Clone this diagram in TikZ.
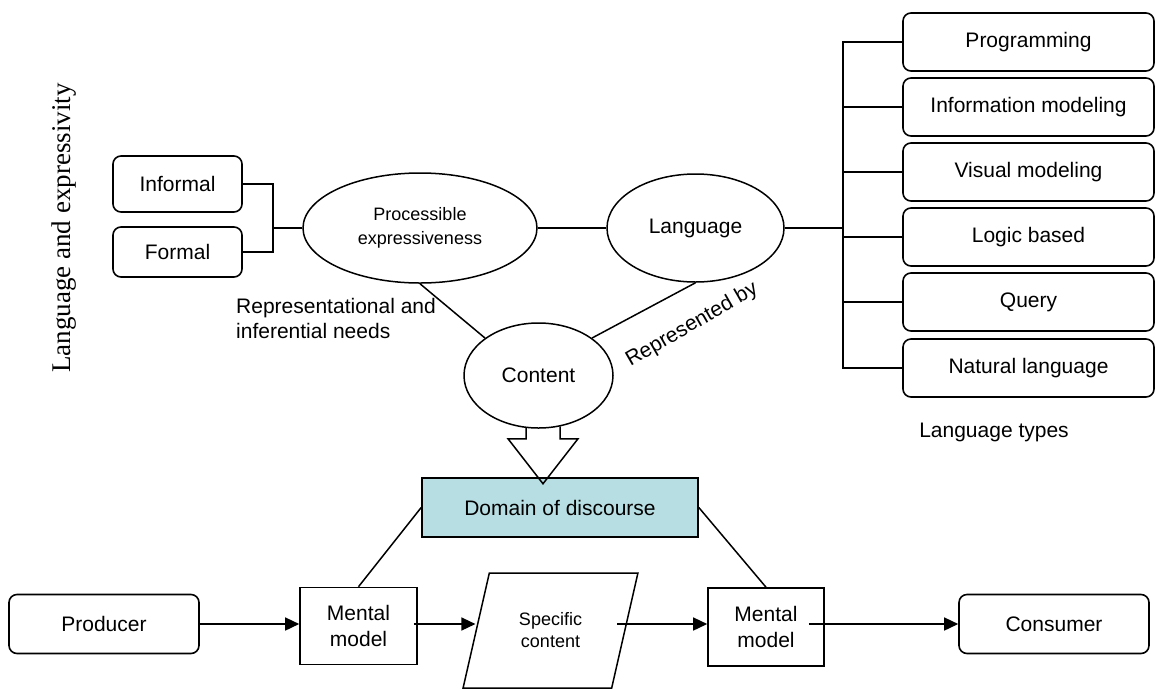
\documentclass[tikz,border=0pt]{standalone}
\usepackage{fontspec}
\setmainfont{Liberation Sans}
\newfontfamily\titleserif{Liberation Serif}
\usetikzlibrary{shapes.geometric,arrows.meta,calc}
\definecolor{domfill}{RGB}{183,222,226}
\begin{document}
\begin{tikzpicture}[x=1pt,y=-1pt,
  base/.style={font=\fontsize{21}{25}\selectfont, align=center, inner sep=0pt},
  small/.style={font=\fontsize{18}{24}\selectfont},
  rbox/.style={base, draw, line width=1.6pt, rounded corners=8pt},
  sbox/.style={base, draw, line width=1.6pt},
  ell/.style={base, draw, ellipse, line width=1.5pt},
  conn/.style={line width=1.5pt},
  arr/.style={line width=1.5pt, -{Triangle[length=14pt,width=13pt]}},
  lbl/.style={base},
]
\useasboundingbox (0,0) rectangle (1156,689);

% title
\node[font=\titleserif\fontsize{27}{30}\selectfont, rotate=90, inner sep=0pt] (title) at (64,228) {Language and expressivity};

% left boxes
\node[rbox, minimum width=129pt, minimum height=56pt] (inf) at (177.5,184) {Informal};
\node[rbox, minimum width=129pt, minimum height=50pt] (for) at (177.5,252) {Formal};

% ellipses
\node[ell, small, minimum width=234pt, minimum height=110pt] (pe) at (420,228) {Processible\\expressiveness};
\node[ell, minimum width=177pt, minimum height=108pt] (lang) at (695.5,228) {Language};
\node[ell, minimum width=149pt, minimum height=105pt] (cont) at (538.5,375.5) {Content};

% right boxes
\foreach \t/\y/\n in {Programming/42/p1, Information modeling/107/p2, Visual modeling/172/p3, Logic based/237/p4, Query/302/p5, Natural language/368/p6}{
  \node[rbox, minimum width=251pt, minimum height=58pt] (\n) at (1028.5,\y) {\t};
}
\node[lbl] (ltypes) at (994,432) {Language types};

% labels
\node[lbl, align=left, anchor=west] (repneed) at (236,318) {Representational and\\inferential needs};
\node[lbl, rotate=30] (repby) at (692,325) {Represented by};

% domain
\node[sbox, fill=domfill, minimum width=276pt, minimum height=59pt] (dom) at (560,507.5) {Domain of discourse};

% bottom row
\node[rbox, minimum width=190pt, minimum height=59pt] (prod) at (104,624) {Producer};
\node[sbox, minimum width=117pt, minimum height=77pt, font=\fontsize{21}{26}\selectfont] (mm1) at (358.5,626) {Mental\\model};
\node[draw, trapezium, trapezium left angle=69, trapezium right angle=111, trapezium stretches=true,
      minimum width=175pt, minimum height=115pt, line width=1.5pt, inner sep=0pt, align=center,
      font=\fontsize{18}{22}\selectfont] (spec) at (550.5,630.5) {Specific\\content};
\node[sbox, minimum width=116pt, minimum height=78pt, font=\fontsize{21}{26}\selectfont] (mm2) at (766,627) {Mental\\model};
\node[rbox, minimum width=190pt, minimum height=59pt] (cons) at (1054,624) {Consumer};

% left bracket
\coordinate (lb) at (273,228);
\draw[conn] (inf.east) -| (lb) |- (for.east);
\draw[conn] (lb) -- (pe.west);

% ellipse links
\draw[conn] (pe.east) -- (lang.west);
\draw[conn] (pe.south) -- (cont.145);
\draw[conn] (lang.south) -- (cont.35);

% right bracket
\coordinate (rb) at (843,228);
\draw[conn] (lang.east) -- (rb);
\draw[conn] (p1.west) -| (rb) |- (p6.west);
\foreach \n in {p2,p3,p4,p5}{\draw[conn] (\n.west) -- (\n.west -| rb);}

% block arrow (content -> domain)
\coordinate (tip) at ($(cont.south)+(4.5,55)$);
\draw[line width=1.5pt, line join=miter]
  ($(cont.south)+(-12.5,-1.5)$) -- ($(cont.south)+(-12.5,10)$) -- ($(cont.south)+(-30.5,10)$)
  -- (tip) -- ($(cont.south)+(39.5,10)$) -- ($(cont.south)+(21.5,10)$) -- ($(cont.south)+(21.5,-2.5)$);

% domain links
\draw[conn] (mm1.north) -- (dom.west);
\draw[conn] (dom.east) -- (mm2.north);

% bottom arrows
\coordinate (a1) at ($(mm1.east)+(-4,-2)$);
\coordinate (a2) at (617,624);
\coordinate (a3) at ($(mm2.east)+(-16,-3)$);
\draw[arr] (prod.east) -- (prod.east -| mm1.west);
\draw[arr] (a1) -- (a1 -| spec.west);
\draw[arr] (a2) -- (a2 -| mm2.west);
\draw[arr] (a3) -- (a3 -| cons.west);
\end{tikzpicture}
\end{document}
